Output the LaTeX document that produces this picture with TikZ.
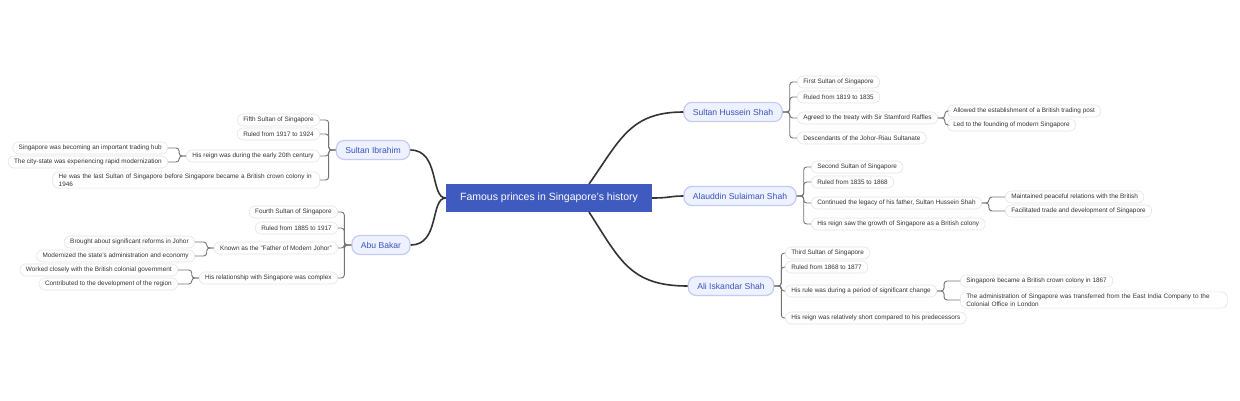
\documentclass[tikz,border=0pt]{standalone}
\usepackage{fontspec}
\setmainfont{Liberation Sans}
\begin{document}
\begin{tikzpicture}[x=1pt,y=-1pt,
 rootn/.style={fill=rootc,text=white,font=\fontsize{10.5}{12}\selectfont,minimum width=206pt,minimum height=28pt,inner sep=0pt},
 br/.style={fill=brf,draw=brd,line width=1.2pt,rounded corners=8pt,text=brt,font=\fontsize{8.6}{10}\selectfont,minimum height=19pt,inner xsep=9pt},
 lf/.style={fill=white,draw=lfd,line width=0.6pt,rounded corners=6pt,text=black!80,font=\fontsize{6.4}{7.6}\selectfont,minimum height=12pt,inner xsep=6pt,inner ysep=2pt,align=left},
 mn/.style={draw=black!80,line width=1.6pt},
 lk/.style={draw=black!55,line width=0.9pt,rounded corners=3pt}]
\definecolor{rootc}{HTML}{3F5BBF}
\definecolor{brf}{HTML}{EEF1FF}
\definecolor{brd}{HTML}{C3CBF6}
\definecolor{brt}{HTML}{3A55C0}
\definecolor{lfd}{HTML}{E4E4E4}
\useasboundingbox (0,0) rectangle (1240,400);
\node[rootn] (root) at (549,198) {Famous princes in Singapore's history};
% branches
\node[br] (b1) at (733,112) {Sultan Hussein Shah};
\node[br] (b2) at (740,196) {Alauddin Sulaiman Shah};
\node[br] (b3) at (731,286) {Ali Iskandar Shah};
\node[br] (b4) at (373,150) {Sultan Ibrahim};
\node[br] (b5) at (381,245) {Abu Bakar};
\foreach \b in {b1,b2,b3} \draw[mn] (root.east) ++(-60,-14) coordinate (tmp) ;
\draw[mn] (589,184) .. controls (620,140) and (630,112) .. (b1.west);
\draw[mn] (root.east) .. controls (670,198) and (670,196) .. (b2.west);
\draw[mn] (589,212) .. controls (620,260) and (630,286) .. (b3.west);
\draw[mn] (root.west) .. controls (430,198) and (440,150) .. (b4.east);
\draw[mn] (root.west) .. controls (430,198) and (440,245) .. (b5.east);
% Hussein
\node[lf,anchor=west] (h1) at (797,82) {First Sultan of Singapore};
\node[lf,anchor=west] (h2) at (797,97) {Ruled from 1819 to 1835};
\node[lf,anchor=west] (h3) at (797,118) {Agreed to the treaty with Sir Stamford Raffles};
\node[lf,anchor=west] (h4) at (797,138) {Descendants of the Johor-Riau Sultanate};
\node[lf,anchor=west] (h31) at (947,111) {Allowed the establishment of a British trading post};
\node[lf,anchor=west] (h32) at (947,125) {Led to the founding of modern Singapore};
\foreach \l in {h1,h2,h3,h4} \draw[lk] (b1.east) -- ++(7,0) |- (\l.west);
\foreach \l in {h31,h32} \draw[lk] (h3.east) -- ++(7,0) |- (\l.west);
% Alauddin
\node[lf,anchor=west] (a1) at (811,167) {Second Sultan of Singapore};
\node[lf,anchor=west] (a2) at (811,182) {Ruled from 1835 to 1868};
\node[lf,anchor=west] (a3) at (811,203) {Continued the legacy of his father, Sultan Hussein Shah};
\node[lf,anchor=west] (a4) at (811,224) {His reign saw the growth of Singapore as a British colony};
\node[lf,anchor=west] (a31) at (1005,197) {Maintained peaceful relations with the British};
\node[lf,anchor=west] (a32) at (1005,211) {Facilitated trade and development of Singapore};
\foreach \l in {a1,a2,a3,a4} \draw[lk] (b2.east) -- ++(7,0) |- (\l.west);
\foreach \l in {a31,a32} \draw[lk] (a3.east) -- ++(7,0) |- (\l.west);
% Ali
\node[lf,anchor=west] (c1) at (785,253) {Third Sultan of Singapore};
\node[lf,anchor=west] (c2) at (785,267) {Ruled from 1868 to 1877};
\node[lf,anchor=west] (c3) at (785,291) {His rule was during a period of significant change};
\node[lf,anchor=west] (c4) at (785,318) {His reign was relatively short compared to his predecessors};
\node[lf,anchor=west] (c31) at (960,281) {Singapore became a British crown colony in 1867};
\node[lf,anchor=west,text width=255pt] (c32) at (960,300) {The administration of Singapore was transferred from the East India Company to the Colonial Office in London};
\foreach \l in {c1,c2,c3,c4} \draw[lk] (b3.east) -- ++(7,0) |- (\l.west);
\foreach \l in {c31,c32} \draw[lk] (c3.east) -- ++(7,0) |- (\l.west);
% Ibrahim
\node[lf,anchor=east] (i1) at (320,120) {Fifth Sultan of Singapore};
\node[lf,anchor=east] (i2) at (320,134) {Ruled from 1917 to 1924};
\node[lf,anchor=east] (i3) at (320,156) {His reign was during the early 20th century};
\node[lf,anchor=east,text width=255pt] (i4) at (320,180) {He was the last Sultan of Singapore before Singapore became a British crown colony in 1946};
\node[lf,anchor=east] (i31) at (168,148) {Singapore was becoming an important trading hub};
\node[lf,anchor=east] (i32) at (168,162) {The city-state was experiencing rapid modernization};
\foreach \l in {i1,i2,i3,i4} \draw[lk] (b4.west) -- ++(-7,0) |- (\l.east);
\foreach \l in {i31,i32} \draw[lk] (i3.west) -- ++(-7,0) |- (\l.east);
% Abu Bakar
\node[lf,anchor=east] (k1) at (338,212) {Fourth Sultan of Singapore};
\node[lf,anchor=east] (k2) at (338,228) {Ruled from 1885 to 1917};
\node[lf,anchor=east] (k3) at (338,248) {Known as the "Father of Modern Johor"};
\node[lf,anchor=east] (k4) at (338,278) {His relationship with Singapore was complex};
\node[lf,anchor=east] (k31) at (195,242) {Brought about significant reforms in Johor};
\node[lf,anchor=east] (k32) at (195,256) {Modernized the state's administration and economy};
\node[lf,anchor=east] (k41) at (178,270) {Worked closely with the British colonial government};
\node[lf,anchor=east] (k42) at (178,284) {Contributed to the development of the region};
\foreach \l in {k1,k2,k3,k4} \draw[lk] (b5.west) -- ++(-7,0) |- (\l.east);
\foreach \l in {k31,k32} \draw[lk] (k3.west) -- ++(-7,0) |- (\l.east);
\foreach \l in {k41,k42} \draw[lk] (k4.west) -- ++(-7,0) |- (\l.east);
\end{tikzpicture}
\end{document}
